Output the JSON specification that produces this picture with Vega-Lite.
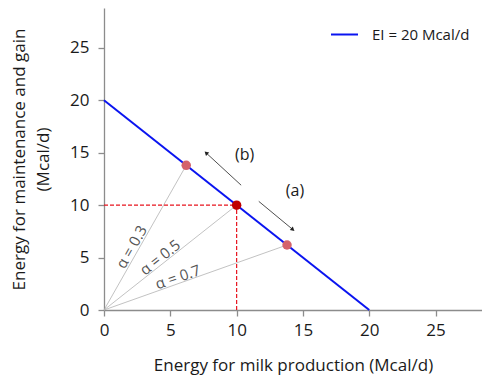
{
  "$schema": "https://vega.github.io/schema/vega-lite/v6.json",
  "width": 378,
  "height": 302,
  "autosize": {"type": "none"},
  "padding": {"left": 104, "top": 8, "right": 0, "bottom": 70},
  "config": {
    "font": "Open Sans",
    "view": {"stroke": null},
    "axis": {
      "grid": false,
      "domainColor": "#8c8c8c",
      "domainWidth": 1.3,
      "tickColor": "#8c8c8c",
      "tickWidth": 1.3,
      "tickSize": 6,
      "labelFontSize": 17,
      "labelColor": "#1a1a1a",
      "labelFlush": false,
      "titleFontSize": 17,
      "titleFontWeight": "normal",
      "titleColor": "#1a1a1a"
    }
  },
  "datasets": {
    "rays": [
      {"alpha": "0.3", "x": 0, "y": 0, "x2": 6.2, "y2": 13.8},
      {"alpha": "0.5", "x": 0, "y": 0, "x2": 10, "y2": 10},
      {"alpha": "0.7", "x": 0, "y": 0, "x2": 13.8, "y2": 6.2}
    ],
    "guides": [
      {"x": 0, "y": 10, "x2": 10, "y2": 10},
      {"x": 10, "y": 0, "x2": 10, "y2": 10}
    ],
    "ei": [
      {"series": "EI = 20 Mcal/d", "x": 0, "y": 20, "x2": 20, "y2": 0}
    ],
    "pts": [
      {"kind": "alt", "x": 6.2, "y": 13.8},
      {"kind": "base", "x": 10, "y": 10},
      {"kind": "alt", "x": 13.8, "y": 6.2}
    ],
    "arrows": [
      {"name": "b", "x": 10.34, "y": 11.9, "x2": 7.7, "y2": 14.98},
      {"name": "a", "x": 11.67, "y": 10.36, "x2": 14.24, "y2": 7.67}
    ],
    "labels": [
      {"name": "b", "text": "(b)", "x": 10.6, "y": 14.8},
      {"name": "a", "text": "(a)", "x": 14.4, "y": 11.35},
      {"name": "r3", "text": "α = 0.3", "x": 2.09, "y": 6.0},
      {"name": "r5", "text": "α = 0.5", "x": 4.23, "y": 5.0},
      {"name": "r7", "text": "α = 0.7", "x": 5.58, "y": 3.12}
    ]
  },
  "encoding": {
    "x": {
      "type": "quantitative",
      "scale": {"domain": [0, 28.5], "nice": false},
      "axis": {"values": [0, 5, 10, 15, 20, 25], "title": "Energy for milk production (Mcal/d)", "labelPadding": 6, "titlePadding": 19}
    },
    "y": {
      "type": "quantitative",
      "scale": {"domain": [0, 28.8], "nice": false},
      "axis": {"values": [0, 5, 10, 15, 20, 25], "title": ["Energy for maintenance and gain", "(Mcal/d)"], "labelPadding": 9, "titlePadding": 17, "titleLineHeight": 24, "titleAlign": "center", "titleAnchor": "middle"}
    }
  },
  "layer": [
    {
      "data": {"name": "rays"},
      "mark": {"type": "rule", "color": "#b3b3b3", "strokeWidth": 0.8},
      "encoding": {
        "x": {"field": "x", "type": "quantitative"},
        "y": {"field": "y", "type": "quantitative"},
        "x2": {"field": "x2"},
        "y2": {"field": "y2"}
      }
    },
    {
      "data": {"name": "guides"},
      "mark": {"type": "rule", "color": "#e8141e", "strokeWidth": 1.2, "strokeDash": [4, 2]},
      "encoding": {
        "x": {"field": "x", "type": "quantitative"},
        "y": {"field": "y", "type": "quantitative"},
        "x2": {"field": "x2"},
        "y2": {"field": "y2"}
      }
    },
    {
      "data": {"name": "ei"},
      "mark": {"type": "rule", "strokeWidth": 2},
      "encoding": {
        "x": {"field": "x", "type": "quantitative"},
        "y": {"field": "y", "type": "quantitative"},
        "x2": {"field": "x2"},
        "y2": {"field": "y2"},
        "color": {
          "field": "series",
          "type": "nominal",
          "scale": {"domain": ["EI = 20 Mcal/d"], "range": ["#0a14f0"]},
          "legend": {
            "title": null,
            "orient": "none",
            "legendX": 226,
            "legendY": 12,
            "padding": 0,
            "symbolType": "stroke",
            "symbolSize": 729,
            "symbolStrokeWidth": 2,
            "labelFontSize": 15,
            "labelColor": "#1a1a1a",
            "labelOffset": 13
          }
        }
      }
    },
    {
      "data": {"name": "arrows"},
      "mark": {"type": "rule", "color": "#222222", "strokeWidth": 0.8},
      "encoding": {
        "x": {"field": "x", "type": "quantitative"},
        "y": {"field": "y", "type": "quantitative"},
        "x2": {"field": "x2"},
        "y2": {"field": "y2"}
      }
    },
    {
      "data": {"name": "arrows"},
      "transform": [{"filter": "datum.name === 'b'"}],
      "mark": {"type": "point", "shape": "triangle-up", "filled": true, "color": "#222222", "size": 22, "angle": 313, "opacity": 1},
      "encoding": {
        "x": {"field": "x2", "type": "quantitative"},
        "y": {"field": "y2", "type": "quantitative"}
      }
    },
    {
      "data": {"name": "arrows"},
      "transform": [{"filter": "datum.name === 'a'"}],
      "mark": {"type": "point", "shape": "triangle-up", "filled": true, "color": "#222222", "size": 22, "angle": 130, "opacity": 1},
      "encoding": {
        "x": {"field": "x2", "type": "quantitative"},
        "y": {"field": "y2", "type": "quantitative"}
      }
    },
    {
      "data": {"name": "pts"},
      "mark": {"type": "point", "filled": true, "shape": "circle", "size": 90, "opacity": 1},
      "encoding": {
        "x": {"field": "x", "type": "quantitative"},
        "y": {"field": "y", "type": "quantitative"},
        "fill": {
          "field": "kind",
          "type": "nominal",
          "scale": {"domain": ["alt", "base"], "range": ["#d4636b", "#c00000"]},
          "legend": null
        }
      }
    },
    {
      "data": {"name": "labels"},
      "transform": [{"filter": "datum.name === 'a' || datum.name === 'b'"}],
      "mark": {"type": "text", "fontSize": 16, "color": "#1a1a1a"},
      "encoding": {
        "x": {"field": "x", "type": "quantitative"},
        "y": {"field": "y", "type": "quantitative"},
        "text": {"field": "text"}
      }
    },
    {
      "data": {"name": "labels"},
      "transform": [{"filter": "datum.name === 'r3'"}],
      "mark": {"type": "text", "fontSize": 15, "color": "#555555", "angle": 299.5},
      "encoding": {
        "x": {"field": "x", "type": "quantitative"},
        "y": {"field": "y", "type": "quantitative"},
        "text": {"field": "text"}
      }
    },
    {
      "data": {"name": "labels"},
      "transform": [{"filter": "datum.name === 'r5'"}],
      "mark": {"type": "text", "fontSize": 15, "color": "#555555", "angle": 321.7},
      "encoding": {
        "x": {"field": "x", "type": "quantitative"},
        "y": {"field": "y", "type": "quantitative"},
        "text": {"field": "text"}
      }
    },
    {
      "data": {"name": "labels"},
      "transform": [{"filter": "datum.name === 'r7'"}],
      "mark": {"type": "text", "fontSize": 15, "color": "#555555", "angle": 341},
      "encoding": {
        "x": {"field": "x", "type": "quantitative"},
        "y": {"field": "y", "type": "quantitative"},
        "text": {"field": "text"}
      }
    }
  ]
}
